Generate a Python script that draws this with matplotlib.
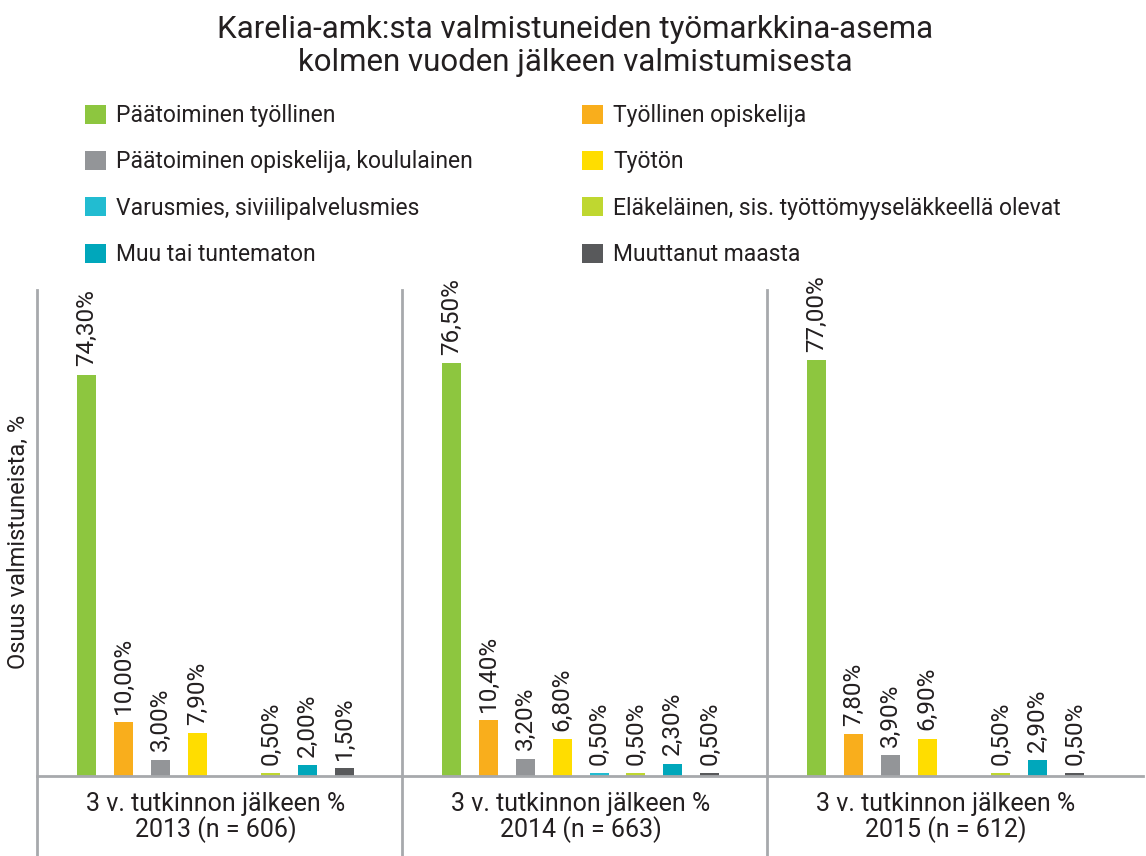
import numpy as np
import matplotlib.pyplot as plt
from matplotlib.patches import Patch
from matplotlib.lines import Line2D

plt.rcParams["font.family"] = ["Roboto", "DejaVu Sans"]

# Data
groups = ["3 v. tutkinnon jälkeen %\n2013 (n = 606)",
          "3 v. tutkinnon jälkeen %\n2014 (n = 663)",
          "3 v. tutkinnon jälkeen %\n2015 (n = 612)"]
series = ["Päätoiminen työllinen", "Työllinen opiskelija",
          "Päätoiminen opiskelija, koululainen", "Työtön",
          "Varusmies, siviilipalvelusmies",
          "Eläkeläinen, sis. työttömyyseläkkeellä olevat",
          "Muu tai tuntematon", "Muuttanut maasta"]
colors = ["#8DC63F", "#F9AE1C", "#939598", "#FFDD00",
          "#22BCD1", "#BFD730", "#00A7BB", "#58595B"]
values_2013 = [74.3, 10.0, 3.0, 7.9, np.nan, 0.5, 2.0, 1.5]
values_2014 = [76.5, 10.4, 3.2, 6.8, 0.5, 0.5, 2.3, 0.5]
values_2015 = [77.0, 7.8, 3.9, 6.9, np.nan, 0.5, 2.9, 0.5]
values = np.array([values_2013, values_2014, values_2015])

W, H = 1146, 856
fig = plt.figure(figsize=(W / 100, H / 100), dpi=100)
gw = 365  # pixels per group
ax = fig.add_axes([37 / W, 1 - 776 / H, 3 * gw / W, (776 - 290) / H])

text_col = "#231F20"
line_col = "#A7A9AC"

bar_w = 0.052
step = 0.101
first = 0.136
for k in range(len(series)):
    xs = np.arange(3) + first + step * k
    ys = values[:, k]
    ax.bar(xs, ys, width=bar_w, color=colors[k])
    for x, y in zip(xs, ys):
        if np.isnan(y):
            continue
        ax.annotate(f"{y:.2f}%".replace(".", ","), (x, y),
                    xytext=(0, 6), textcoords="offset points",
                    rotation=90, ha="center", va="bottom",
                    fontsize=17.5, color=text_col)

ax.set_xlim(0, 3)
ax.set_ylim(0, 90)
for s in ax.spines.values():
    s.set_visible(False)
ax.set_xticks([])
ax.set_yticks([])

# baseline and group separators
ax.add_line(Line2D([0, 3.03], [0, 0], color=line_col, lw=2, clip_on=False))
for gx in range(3):
    ax.plot([gx, gx], [90, -15], color=line_col, lw=2, clip_on=False)

for i, g in enumerate(groups):
    ax.text(i + 0.49, -3.0, g, ha="center", va="top", fontsize=18,
            color=text_col, linespacing=1.0)

fig.text(18 / W, 1 - 542 / H, "Osuus valmistuneista, %", rotation=90,
         ha="center", va="center", fontsize=17, color=text_col)

fig.text(575 / W, 1 - 46 / H,
         "Karelia-amk:sta valmistuneiden työmarkkina-asema\nkolmen vuoden jälkeen valmistumisesta",
         ha="center", va="center", fontsize=22.5, color=text_col, linespacing=1.2)

# legend, filled row by row in the reference -> two single-column legends
for col, x0 in ((0, 85), (1, 582)):
    idx = [col, col + 2, col + 4, col + 6]
    handles = [Patch(facecolor=colors[i], edgecolor="none") for i in idx]
    leg = fig.legend(handles, [series[i] for i in idx], loc="upper left",
                     bbox_to_anchor=(x0 / W, 1 - 104 / H), frameon=False,
                     borderpad=0, borderaxespad=0, handlelength=0.9,
                     handleheight=0.9, handletextpad=0.45, labelspacing=1.02,
                     fontsize=16.5)
    for t in leg.get_texts():
        t.set_color(text_col)

fig.savefig("out.png", dpi=100)
